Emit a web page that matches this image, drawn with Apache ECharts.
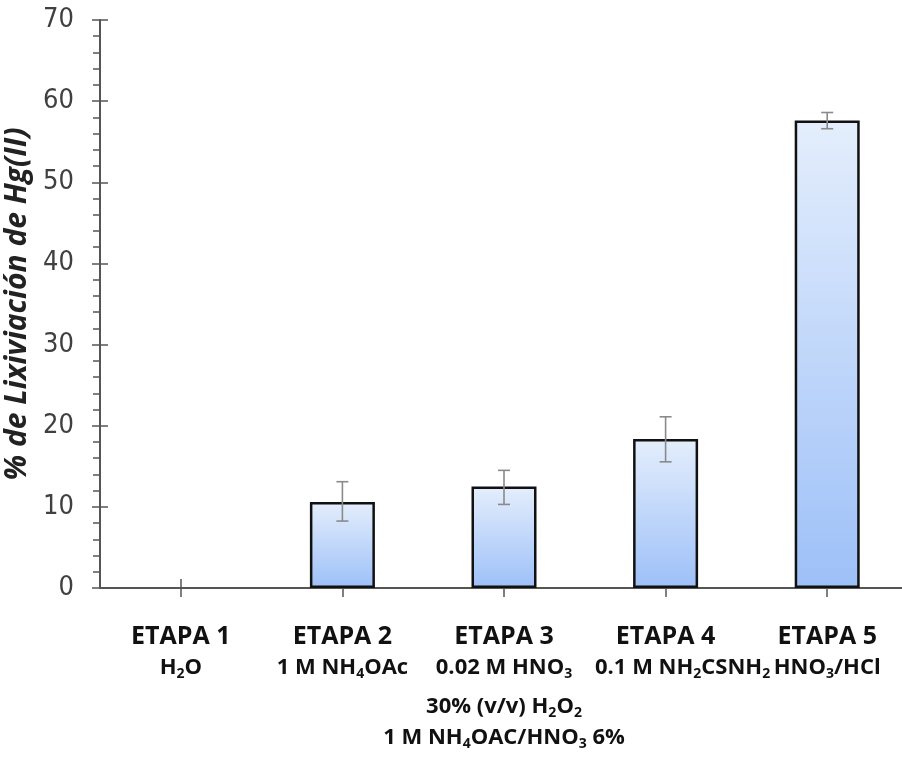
<!DOCTYPE html>
<html>
<head>
<meta charset="utf-8">
<script src="https://cdn.jsdelivr.net/npm/echarts@6/dist/echarts.min.js"></script>
<style>
  html, body { margin: 0; padding: 0; background: #ffffff; }
  #chart { width: 902px; height: 757px; }
</style>
</head>
<body>
<div id="chart"></div>
<script>
// Leaching stages (x categories) and the reagent used in each stage.
// "_n" marks a subscript digit in a chemical formula.
const stages = ['ETAPA 1', 'ETAPA 2', 'ETAPA 3', 'ETAPA 4', 'ETAPA 5'];
const reagents = [
  ['H_2O'],
  ['1 M NH_4OAc'],
  ['0.02 M HNO_3', '30% (v/v) H_2O_2', '1 M NH_4OAC/HNO_3 6%'],
  ['0.1 M NH_2CSNH_2'],
  ['HNO_3/HCl']
];

// Percentage of Hg(II) leached per stage, with the error-bar limits.
const leached = [0, 10.6, 12.5, 18.35, 57.6];
const errLow  = [null, 8.25, 10.3, 15.55, 56.6];
const errHigh = [null, 13.1, 14.5, 21.1, 58.6];

// Value axis ticks
const yMin = 0, yMax = 70, yStep = 10;

const axisColor = '#555555';
const narrow = "'DejaVu Sans Condensed', 'DejaVu Sans', sans-serif";
const humanist = "'Open Sans', 'Noto Sans', sans-serif";

// Turn "NH_4OAc" into rich-text tokens with subscripts.
// The first plain token may use its own style (firstStyle).
function formula(text, style, firstStyle) {
  let out = '';
  let buf = '';
  let first = true;
  function flush() {
    if (!buf) return;
    out += '{' + (first && firstStyle ? firstStyle : style) + '|' + buf + '}';
    buf = '';
    first = false;
  }
  for (let i = 0; i < text.length; i++) {
    if (text[i] === '_' && i + 1 < text.length) {
      flush();
      out += '{sub|' + text[i + 1] + '}';
      i++;
    } else {
      buf += text[i];
    }
  }
  flush();
  return out;
}

const lineStyles = ['s2', 's3', 's4'];

function stageLabel(value, index) {
  const lines = ['{t|' + value + '}'];
  reagents[index].forEach(function (r, k) {
    // the thiourea line sits a little to the right of its stage title
    const lead = (index === 3 && k === 0) ? 's2r' : null;
    lines.push(formula(r, lineStyles[k], lead));
  });
  return lines.join('\n');
}

// A zero bar is drawn without its outline so nothing shows on the axis.
const barData = leached.map(function (v) {
  return v === 0 ? { value: v, itemStyle: { borderWidth: 0 } } : v;
});

const errorData = leached.map(function (v, i) {
  return errLow[i] == null ? null : [i, errLow[i], errHigh[i]];
}).filter(function (d) { return d; });

const chart = echarts.init(document.getElementById('chart'), null, { renderer: 'canvas' });

const reagentFont = { fontFamily: humanist, fontWeight: 'bold', fontSize: 22, color: '#111' };

chart.setOption({
  backgroundColor: '#ffffff',
  animation: false,
  grid: { left: 100, width: 808, top: 20, bottom: 169, containLabel: false, outerBoundsMode: 'none' },
  xAxis: [
    {
      type: 'category',
      data: stages,
      position: 'bottom',
      boundaryGap: true,
      axisLine: { show: true, lineStyle: { color: axisColor, width: 2 } },
      axisTick: { show: true, alignWithLabel: true, inside: false, length: 9,
                  lineStyle: { color: axisColor, width: 1.5 } },
      splitLine: { show: false },
      axisLabel: {
        interval: 0,
        margin: 34,
        formatter: stageLabel,
        rich: {
          t: { fontFamily: humanist, fontWeight: 'bold', fontSize: 25, color: '#111', lineHeight: 30 },
          s2: Object.assign({ lineHeight: 31 }, reagentFont),
          s2r: Object.assign({ lineHeight: 31, padding: [0, 0, 0, 34] }, reagentFont),
          s3: Object.assign({ lineHeight: 47 }, reagentFont),
          s4: Object.assign({ lineHeight: 15 }, reagentFont),
          sub: { fontFamily: humanist, fontWeight: 'bold', fontSize: 14, color: '#111',
                 lineHeight: 10, padding: [14, 0, 0, 0] }
        }
      }
    },
    {
      type: 'category',
      data: stages,
      position: 'bottom',
      boundaryGap: true,
      axisLine: { show: false },
      axisTick: { show: true, alignWithLabel: true, inside: true, length: 9,
                  lineStyle: { color: axisColor, width: 1.5 } },
      axisLabel: { show: false },
      splitLine: { show: false }
    }
  ],
  yAxis: [
    {
      type: 'value',
      position: 'left',
      min: yMin, max: yMax, interval: yStep,
      name: '% de Lixiviación de Hg(II)',
      nameLocation: 'middle',
      nameGap: 66,
      nameTextStyle: { fontFamily: humanist, fontWeight: 'bold', fontStyle: 'italic',
                       fontSize: 30, color: '#222' },
      axisLine: { show: true, lineStyle: { color: axisColor, width: 2 } },
      axisTick: { show: true, inside: false, length: 8, lineStyle: { color: axisColor, width: 1.5 } },
      minorTick: { show: true, splitNumber: 5, length: 7, lineStyle: { color: axisColor, width: 1.5 } },
      splitLine: { show: false },
      minorSplitLine: { show: false },
      axisLabel: { margin: 26, fontFamily: narrow, fontSize: 27, color: '#404040' }
    },
    {
      type: 'value',
      position: 'left',
      min: yMin, max: yMax, interval: yStep,
      axisLine: { show: false },
      axisTick: { show: true, inside: true, length: 8, lineStyle: { color: axisColor, width: 1.5 } },
      splitLine: { show: false },
      axisLabel: { show: false }
    }
  ],
  series: [
    {
      type: 'bar',
      xAxisIndex: 0,
      yAxisIndex: 0,
      data: barData,
      barWidth: 65,
      itemStyle: {
        color: new echarts.graphic.LinearGradient(0, 0, 0, 1, [
          { offset: 0, color: '#e4eefc' },
          { offset: 1, color: '#9dc0f8' }
        ]),
        borderColor: '#111111',
        borderWidth: 2.5
      },
      z: 2
    },
    {
      type: 'custom',
      xAxisIndex: 0,
      yAxisIndex: 0,
      data: errorData,
      z: 5,
      renderItem: function (params, api) {
        const x = api.value(0);
        const lo = api.coord([x, api.value(1)]);
        const hi = api.coord([x, api.value(2)]);
        const cap = 6;
        const style = { stroke: '#8a8a8a', lineWidth: 1.6 };
        return {
          type: 'group',
          children: [
            { type: 'line', shape: { x1: lo[0], y1: lo[1], x2: hi[0], y2: hi[1] }, style: style },
            { type: 'line', shape: { x1: hi[0] - cap, y1: hi[1], x2: hi[0] + cap, y2: hi[1] }, style: style },
            { type: 'line', shape: { x1: lo[0] - cap, y1: lo[1], x2: lo[0] + cap, y2: lo[1] }, style: style }
          ]
        };
      }
    }
  ]
});
</script>
</body>
</html>
